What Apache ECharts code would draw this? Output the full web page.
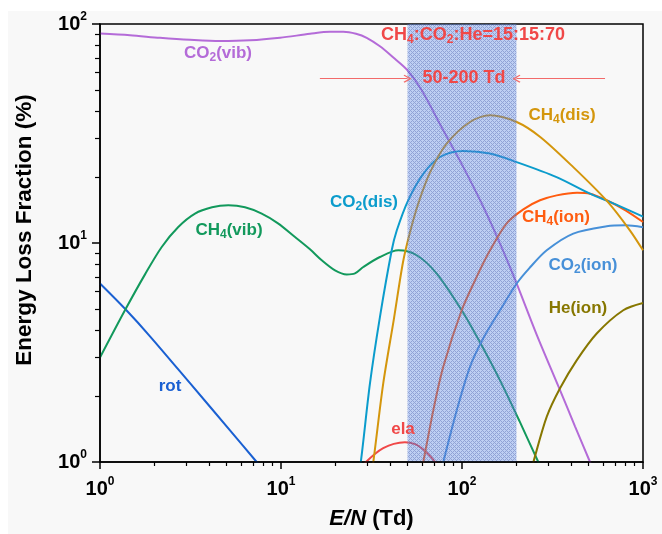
<!DOCTYPE html>
<html><head><meta charset="utf-8">
<script src="https://cdn.jsdelivr.net/npm/echarts@6/dist/echarts.min.js"></script>
<style>html,body{margin:0;padding:0;background:#fff}#c{width:662px;height:534px}</style>
</head><body><div id="c"></div>
<script>
// ---------------- data (E/N in Td, energy loss fraction in %) ----------------
const rotX = [1, 1.383, 1.889, 3.142, 5.227, 7.34, 8.16];
const rotY = [6.53, 4.98, 3.75, 2.29, 1.395, 1.0, 0.907];

const ch4VibX = [1, 1.383, 1.773, 2.193, 2.707, 3.349, 4.157, 5.114, 6.326, 7.823, 9.625, 11.95, 14.46, 16.79, 19.88, 23.07, 25.63, 28.49, 35.2, 44.5, 56.2, 72.5, 99.6, 125.7, 162.2, 209.1, 264, 291.1];
const ch4VibY = [3.0, 4.98, 7.19, 9.59, 11.83, 13.62, 14.55, 14.86, 14.55, 13.62, 12.3, 10.65, 9.36, 8.34, 7.50, 7.19, 7.27, 7.77, 8.63, 9.26, 8.79, 7.25, 4.93, 3.52, 2.36, 1.52, 1.0, 0.85];

const co2VibX = [1, 1.464, 2.145, 3.142, 4.6, 6.74, 9.87, 14.46, 18.66, 22.1, 25.97, 29.75, 35.2, 41.6, 50.0, 59.9, 78.8, 101.7, 131.3, 162.2, 200.5, 259.5, 347.9, 421, 509.6, 578.6];
const co2VibY = [90.4, 88.8, 86.5, 84.7, 83.6, 84.2, 86.5, 90.2, 92.1, 92.1, 90.2, 86.5, 79.1, 70.5, 61.5, 49.8, 32.7, 22.2, 14.6, 9.94, 6.53, 3.79, 2.13, 1.456, 1.0, 0.783];

const co2DisX = [26.8, 27.6, 31.0, 35.2, 40.9, 43.6, 50.5, 61.1, 75.6, 101.6, 142.8, 200.5, 333, 509.6, 706, 1000];
const co2DisY = [0.9, 1.0, 2.28, 4.59, 9.26, 11.4, 15.7, 20.7, 24.7, 26.3, 25.6, 23.4, 20.0, 16.8, 15.0, 13.2];

const ch4DisX = [31.7, 32.36, 36.7, 42.1, 47.2, 51.6, 57.4, 66.6, 82.3, 110.7, 142.8, 200.5, 270.5, 412, 630, 848, 1000];
const ch4DisY = [0.92, 1.0, 2.28, 4.53, 8.17, 11.19, 15.18, 21.0, 28.4, 35.7, 38.3, 35.7, 30.5, 22.2, 15.6, 11.4, 9.26];

const ch4IonX = [59.7, 61.1, 69.4, 78.8, 99.6, 120.5, 142.8, 176.6, 218.2, 269.7, 333.6, 431.9, 509.6, 630, 800.6, 1000];
const ch4IonY = [0.92, 1.0, 1.72, 2.72, 4.93, 7.0, 9.26, 12.3, 14.25, 15.67, 16.5, 16.95, 16.8, 15.67, 14.1, 12.47];

const co2IonX = [77.0, 78.8, 93.5, 110.7, 131.1, 162.2, 200.5, 235.1, 293.8, 412, 630, 800.6, 1000];
const co2IonY = [0.92, 1.0, 1.72, 2.72, 3.67, 4.93, 6.53, 7.66, 9.26, 11.04, 11.92, 12.04, 11.8];

const heIonX = [242, 248, 294, 348, 430, 555, 778, 1000];
const heIonY = [0.92, 1.0, 1.61, 2.17, 2.91, 3.86, 4.93, 5.32];

const elaX = [27, 29.5, 33, 36.7, 42, 48.4, 55, 61.1, 67, 71, 75];
const elaY = [0.92, 1.0, 1.088, 1.156, 1.21, 1.23, 1.206, 1.14, 1.06, 1.0, 0.94];

const bandRange = [50, 200];          // shaded E/N window (Td)
const arrowLevel = 56.3;              // y level of the annotation arrows
const arrowLeftStart = 16.4;
const arrowRightStart = 617;

const majorX = [1, 10, 100, 1000];
const minorX = [2,3,4,5,6,7,8,9,20,30,40,50,60,70,80,90,200,300,400,500,600,700,800,900];
const majorY = [1, 10, 100];
const minorY = [2,3,4,5,6,7,8,9,20,30,40,50,60,70,80,90];

// ---------------- chart ----------------
const FONT = '"Liberation Sans", Arial, Helvetica, sans-serif';
const pairs = (xs, ys) => xs.map((x, i) => [x, ys[i]]);
const C = {
  co2vib: '#b46bd8', ch4vib: '#12995c', rot: '#1a60d2', co2dis: '#0b9ccc',
  ch4dis: '#d4960c', ch4ion: '#ff5c10', co2ion: '#4790d8', heion: '#877700',
  ela: '#f04848', red: '#f04848', arrow: '#f26a6a'
};
function line(name, xs, ys, color) {
  return {
    name, type: 'line', data: pairs(xs, ys), showSymbol: false, smooth: 0.3,
    lineStyle: { color, width: 2 }, itemStyle: { color }, z: 2, silent: true,
    emphasis: { disabled: true }
  };
}
// cross-hatch fill for the highlighted window
function hatch() {
  const cv = document.createElement('canvas');
  cv.width = 4; cv.height = 4;
  const g = cv.getContext('2d');
  for (let i = 0; i < 4; i++) for (let j = 0; j < 4; j++) {
    const dark = ((i + j) % 4 === 0) || ((i - j + 4) % 4 === 0);
    g.fillStyle = dark ? 'rgba(60,92,185,0.55)' : 'rgba(110,150,235,0.42)';
    g.fillRect(i, j, 1, 1);
  }
  return { image: cv, repeat: 'repeat' };
}
const expLabel = v => '{b|10}{s|' + Math.round(Math.log10(v)) + '}';
const tickRich = {
  b: { fontSize: 20, fontWeight: 'bold', fontFamily: FONT, color: '#000', lineHeight: 26 },
  s: { fontSize: 12, fontWeight: 'bold', fontFamily: FONT, color: '#000', lineHeight: 12, verticalAlign: 'top' }
};
function txt(x, y, str, color, size) {
  return {
    type: 'text', x, y, z: 100, silent: true,
    style: {
      text: str, fill: color, align: 'center', verticalAlign: 'middle',
      fontSize: size, fontWeight: 'bold', fontFamily: FONT,
      rich: {
        a: { fill: color, fontSize: size, fontWeight: 'bold', fontFamily: FONT, lineHeight: 22 },
        s: { fill: color, fontSize: 12, fontWeight: 'bold', fontFamily: FONT, lineHeight: 10, verticalAlign: 'bottom' }
      }
    }
  };
}
const chevron = 'path://M5,0 L10,7 L9,8 L5,2.4 L1,8 L0,7 Z';

const option = {
  animation: false,
  backgroundColor: '#f8f8f8',
  grid: { left: 100, right: 19, top: 24, bottom: 72, show: true, borderColor: '#000', borderWidth: 1.5,
          backgroundColor: 'transparent', containLabel: false, outerBoundsMode: 'none' },
  xAxis: [
    {
      type: 'log', logBase: 10, min: 1, max: 1000, position: 'bottom', z: 10,
      axisLine: { show: true, onZero: false, lineStyle: { color: '#000', width: 1.5 } },
      axisTick: { show: true, inside: false, length: 7, customValues: majorX, lineStyle: { color: '#000', width: 1.5 } },
      minorTick: { show: false }, splitLine: { show: false }, minorSplitLine: { show: false },
      axisLabel: { customValues: majorX, margin: 14, formatter: expLabel, rich: tickRich, showMinLabel: true, showMaxLabel: true },
      name: '{i|E/N} (Td)', nameLocation: 'middle', nameGap: 46,
      nameTextStyle: { fontSize: 22, fontWeight: 'bold', fontFamily: FONT, color: '#000',
        rich: { i: { fontSize: 22, fontWeight: 'bold', fontStyle: 'italic', fontFamily: FONT, color: '#000' } } }
    },
    {
      type: 'log', logBase: 10, min: 1, max: 1000, position: 'bottom', z: 10,
      axisLine: { show: false, onZero: false },
      axisTick: { show: true, inside: false, length: 4, customValues: minorX, lineStyle: { color: '#000', width: 1.2 } },
      axisLabel: { show: false }, splitLine: { show: false }, minorTick: { show: false }
    }
  ],
  yAxis: [
    {
      type: 'log', logBase: 10, min: 1, max: 100, position: 'left', z: 10,
      axisLine: { show: true, onZero: false, lineStyle: { color: '#000', width: 1.5 } },
      axisTick: { show: true, inside: false, length: 8, customValues: majorY, lineStyle: { color: '#000', width: 1.5 } },
      minorTick: { show: false }, splitLine: { show: false },
      axisLabel: { customValues: majorY, margin: 13, formatter: expLabel, rich: tickRich, showMinLabel: true, showMaxLabel: true },
      name: 'Energy Loss Fraction (%)', nameLocation: 'middle', nameGap: 64, nameRotate: 90,
      nameTextStyle: { fontSize: 22.5, fontWeight: 'bold', fontFamily: FONT, color: '#000', padding: [0, 0, 0, 26] }
    },
    {
      type: 'log', logBase: 10, min: 1, max: 100, position: 'left', z: 10,
      axisLine: { show: false, onZero: false },
      axisTick: { show: true, inside: false, length: 5, customValues: minorY, lineStyle: { color: '#000', width: 1.2 } },
      axisLabel: { show: false }, splitLine: { show: false }, minorTick: { show: false }
    }
  ],
  series: [
    line('rot', rotX, rotY, C.rot),
    line('CH4(vib)', ch4VibX, ch4VibY, C.ch4vib),
    line('CO2(vib)', co2VibX, co2VibY, C.co2vib),
    line('ela', elaX, elaY, C.ela),
    line('He(ion)', heIonX, heIonY, C.heion),
    line('CO2(ion)', co2IonX, co2IonY, C.co2ion),
    line('CH4(ion)', ch4IonX, ch4IonY, C.ch4ion),
    line('CO2(dis)', co2DisX, co2DisY, C.co2dis),
    line('CH4(dis)', ch4DisX, ch4DisY, C.ch4dis),
    {
      name: 'band', type: 'line', data: [], z: 4, silent: true,
      markArea: {
        silent: true, z: 5,
        itemStyle: { color: hatch() },
        label: { show: false },
        data: [[{ xAxis: bandRange[0] }, { xAxis: bandRange[1] }]]
      },
      markLine: {
        silent: true, z: 6, symbol: ['none', chevron], symbolSize: 8,
        label: { show: false },
        lineStyle: { color: C.arrow, width: 1, type: 'solid' },
        emphasis: { disabled: true },
        data: [
          [{ coord: [arrowLeftStart, arrowLevel] }, { coord: [bandRange[0], arrowLevel] }],
          [{ coord: [arrowRightStart, arrowLevel] }, { coord: [bandRange[1], arrowLevel] }]
        ]
      }
    }
  ],
  graphic: [
    { type: 'rect', shape: { x: 0, y: 0, width: 662, height: 11 }, style: { fill: '#fff' }, z: -1, silent: true },
    { type: 'rect', shape: { x: 0, y: 0, width: 8, height: 534 }, style: { fill: '#fff' }, z: -1, silent: true },
    txt(218, 53, '{a|CO}{s|2}{a|(vib)}', C.co2vib, 17),
    txt(229, 230, '{a|CH}{s|4}{a|(vib)}', C.ch4vib, 17),
    txt(170, 386, '{a|rot}', C.rot, 17),
    txt(364, 202, '{a|CO}{s|2}{a|(dis)}', C.co2dis, 17),
    txt(562, 115, '{a|CH}{s|4}{a|(dis)}', C.ch4dis, 17),
    txt(556, 217, '{a|CH}{s|4}{a|(ion)}', C.ch4ion, 17),
    txt(583, 265, '{a|CO}{s|2}{a|(ion)}', C.co2ion, 17),
    txt(578, 308, '{a|He(ion)}', C.heion, 17),
    txt(403, 429, '{a|ela}', C.ela, 17),
    txt(473, 35, '{a|CH}{s|4}{a|:CO}{s|2}{a|:He=15:15:70}', C.red, 18),
    txt(464, 78, '{a|50-200 Td}', C.red, 18)
  ]
};
const chart = echarts.init(document.getElementById('c'), null, { renderer: 'canvas' });
chart.setOption(option);
</script></body></html>
